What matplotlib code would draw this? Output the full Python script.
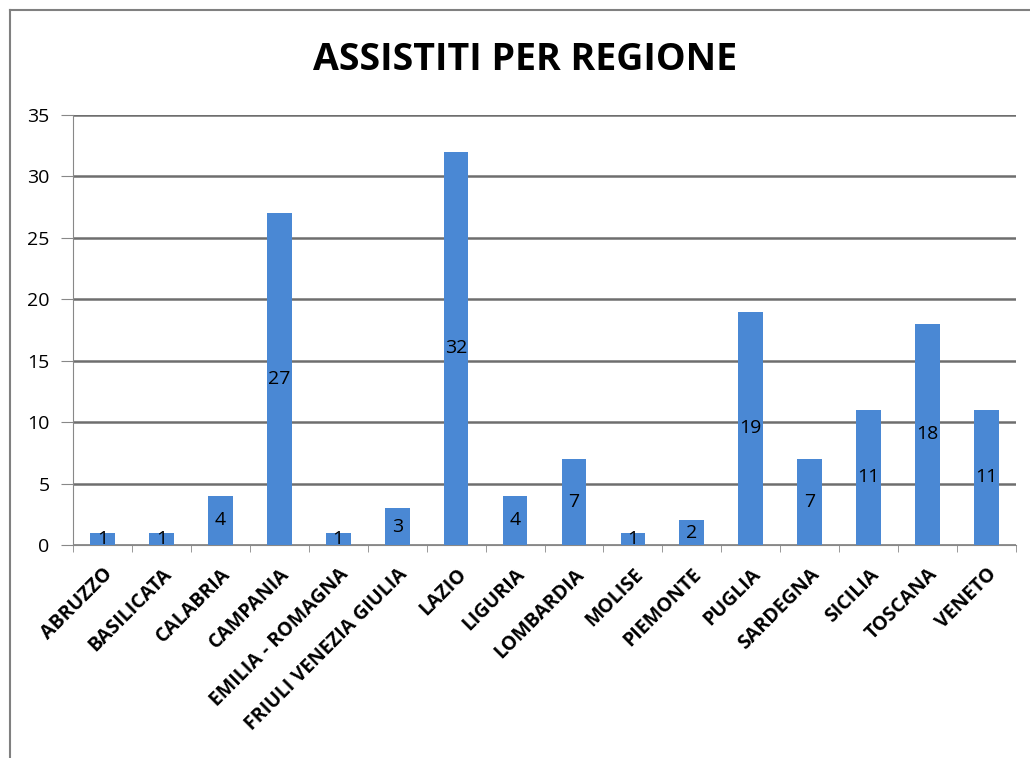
import matplotlib
matplotlib.use('Agg')
import matplotlib.pyplot as plt
from matplotlib.lines import Line2D

# Dati del grafico
regioni = ['ABRUZZO', 'BASILICATA', 'CALABRIA', 'CAMPANIA', 'EMILIA - ROMAGNA',
           'FRIULI VENEZIA GIULIA', 'LAZIO', 'LIGURIA', 'LOMBARDIA', 'MOLISE',
           'PIEMONTE', 'PUGLIA', 'SARDEGNA', 'SICILIA', 'TOSCANA', 'VENETO']
assistiti = [1, 1, 4, 27, 1, 3, 32, 4, 7, 1, 2, 19, 7, 11, 18, 11]
y_ticks = [0, 5, 10, 15, 20, 25, 30, 35]

FONT = 'Open Sans'
BAR_COLOR = '#4A88D4'

fig = plt.figure(figsize=(10.30, 7.58), dpi=100)
W, H = 1030, 758
ax = fig.add_axes([73 / W, 1 - 545 / H, (1016 - 73) / W, (545 - 115) / H])

x = list(range(len(regioni)))
bars = ax.bar(x, assistiti, width=0.42, color=BAR_COLOR, zorder=3)

# Etichette al centro delle barre
for xi, v in zip(x, assistiti):
    ax.text(xi, v / 2, str(v), ha='center', va='center', fontsize=14,
            family=FONT, color='black', zorder=4)

ax.set_xlim(-0.5, len(regioni) - 0.5)
ax.set_ylim(0, 35)
ax.set_yticks(y_ticks)
ax.set_yticklabels([str(t) for t in y_ticks], fontsize=14, family=FONT)
ax.yaxis.grid(True, color='#6e6e6e', linewidth=1.8, zorder=0)
ax.set_axisbelow(True)

ax.set_xticks(x)
ax.set_xticklabels(regioni, rotation=45, ha='right', rotation_mode='anchor',
                   fontsize=14, fontweight='bold', family=FONT)
ax.tick_params(axis='x', length=0, pad=14)
ax.set_xticks([i - 0.5 for i in range(len(regioni) + 1)], minor=True)
ax.tick_params(axis='x', which='minor', length=5, color='#888888')
ax.tick_params(axis='y', length=9, color='#888888', pad=8)

for s in ['top', 'right']:
    ax.spines[s].set_visible(False)
ax.spines['left'].set_color('#888888')
ax.spines['bottom'].set_color('#888888')

fig.text(525 / W, 1 - 60 / H, 'ASSISTITI PER REGIONE', ha='center', va='center',
         fontsize=27, fontweight='bold', family=FONT)

# Cornice esterna del grafico
fig.add_artist(Line2D([10 / W, 10 / W], [0, 1 - 10 / H], transform=fig.transFigure,
                      color='#808080', linewidth=1.5))
fig.add_artist(Line2D([10 / W, 1], [1 - 10 / H, 1 - 10 / H], transform=fig.transFigure,
                      color='#808080', linewidth=1.5))

fig.savefig('out.png', dpi=100, facecolor='white')
